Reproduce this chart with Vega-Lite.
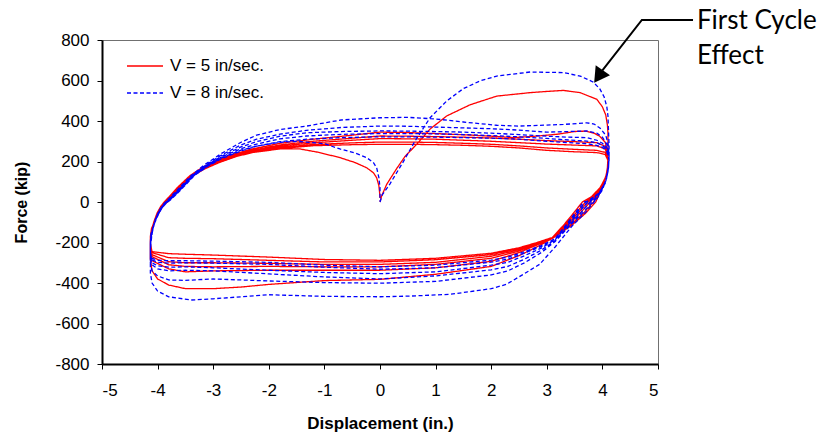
{
"$schema":"https://vega.github.io/schema/vega-lite/v6.json",
"width":556,"height":324,
"autosize":{"type":"none"},
"padding":{"left":102,"top":40,"right":171,"bottom":71},
"config":{"view":{"stroke":"#707070","strokeWidth":1},"font":"Liberation Sans",
"axis":{"grid":false,"domainColor":"#000","domainWidth":2,"tickColor":"#000","tickWidth":1,"tickSize":5,"labelFont":"Liberation Sans","labelFontSize":17,"labelColor":"#000","labelExpr":"'' + datum.value","titleFont":"Liberation Sans","titleFontWeight":"bold","titleColor":"#000"}},
"layer":[
{"mark":{"type":"rule","color":"#000","strokeWidth":1},"encoding":{"x":{"datum":0,"type":"quantitative","title":"Displacement (in.)"}}},
{"mark":{"type":"rule","color":"#000","strokeWidth":1},"encoding":{"y":{"datum":0,"type":"quantitative","title":"Force (kip)"}}},
{"data":{"values":[
{"v":5,"x":0,"y":0},{"v":5,"x":0.03,"y":30},{"v":5,"x":0.12,"y":87},{"v":5,"x":0.3,"y":165},{"v":5,"x":0.45,"y":225},{"v":5,"x":0.66,"y":285},{"v":5,"x":0.9,"y":360},{"v":5,"x":1.2,"y":425},{"v":5,"x":1.62,"y":480},{"v":5,"x":2.1,"y":523},{"v":5,"x":2.7,"y":540},{"v":5,"x":3.0,"y":546},{"v":5,"x":3.3,"y":551},{"v":5,"x":3.6,"y":540},{"v":5,"x":3.9,"y":507},{"v":5,"x":4.0,"y":470},{"v":5,"x":4.06,"y":430},{"v":5,"x":4.09,"y":380},{"v":5,"x":4.1,"y":342},
{"v":5,"x":4.1,"y":280},{"v":5,"x":4.1,"y":220},{"v":5,"x":4.09,"y":170},{"v":5,"x":4.06,"y":120},{"v":5,"x":4.0,"y":70},{"v":5,"x":3.93,"y":30},{"v":5,"x":3.88,"y":0},{"v":5,"x":3.7,"y":-55},{"v":5,"x":3.45,"y":-115},{"v":5,"x":3.1,"y":-180},
{"v":5,"x":2.8,"y":-225},{"v":5,"x":2.5,"y":-265},{"v":5,"x":2.0,"y":-318},{"v":5,"x":1.0,"y":-357},{"v":5,"x":0,"y":-382},{"v":5,"x":-1,"y":-388},{"v":5,"x":-2,"y":-407},{"v":5,"x":-2.5,"y":-420},{"v":5,"x":-3,"y":-428},{"v":5,"x":-3.5,"y":-428},{"v":5,"x":-3.8,"y":-410},{"v":5,"x":-4.0,"y":-380},{"v":5,"x":-4.1,"y":-340},{"v":5,"x":-4.13,"y":-280},
{"v":5,"x":-4.13,"y":-200},{"v":5,"x":-4.11,"y":-150},{"v":5,"x":-4.07,"y":-100},{"v":5,"x":-4.01,"y":-55},{"v":5,"x":-3.94,"y":-20},{"v":5,"x":-3.88,"y":0},{"v":5,"x":-3.78,"y":30},{"v":5,"x":-3.65,"y":70},{"v":5,"x":-3.42,"y":130},{"v":5,"x":-3.2,"y":170},{"v":5,"x":-2.95,"y":205},{"v":5,"x":-2.65,"y":235},{"v":5,"x":-2.3,"y":262},
{"v":5,"x":-1.8,"y":290},{"v":5,"x":-1.2,"y":310},{"v":5,"x":-0.5,"y":330},{"v":5,"x":0,"y":345},{"v":5,"x":0.5,"y":343},{"v":5,"x":1,"y":338},{"v":5,"x":1.5,"y":332},{"v":5,"x":2.0,"y":325},{"v":5,"x":2.4,"y":318},{"v":5,"x":2.8,"y":325},{"v":5,"x":3.2,"y":335},{"v":5,"x":3.5,"y":348},{"v":5,"x":3.7,"y":350},{"v":5,"x":3.85,"y":340},{"v":5,"x":3.95,"y":325},{"v":5,"x":4.05,"y":295},
{"v":5,"x":4.1,"y":240},{"v":5,"x":4.1,"y":190},{"v":5,"x":4.08,"y":140},{"v":5,"x":4.02,"y":85},{"v":5,"x":3.92,"y":35},{"v":5,"x":3.84,"y":0},{"v":5,"x":3.66,"y":-55},{"v":5,"x":3.42,"y":-115},{"v":5,"x":3.1,"y":-180},
{"v":5,"x":2.8,"y":-215},{"v":5,"x":2.5,"y":-250},{"v":5,"x":2.0,"y":-293},{"v":5,"x":1.0,"y":-325},{"v":5,"x":0,"y":-337},{"v":5,"x":-1,"y":-337},{"v":5,"x":-2,"y":-337},{"v":5,"x":-3,"y":-340},{"v":5,"x":-3.5,"y":-345},{"v":5,"x":-3.8,"y":-330},{"v":5,"x":-4.1,"y":-290},{"v":5,"x":-4.13,"y":-250},
{"v":5,"x":-4.13,"y":-190},{"v":5,"x":-4.11,"y":-145},{"v":5,"x":-4.06,"y":-95},{"v":5,"x":-4.0,"y":-52},{"v":5,"x":-3.93,"y":-18},{"v":5,"x":-3.86,"y":0},{"v":5,"x":-3.76,"y":30},{"v":5,"x":-3.63,"y":70},{"v":5,"x":-3.4,"y":130},{"v":5,"x":-3.18,"y":168},{"v":5,"x":-2.93,"y":202},{"v":5,"x":-2.63,"y":231},{"v":5,"x":-2.3,"y":256},
{"v":5,"x":-1.8,"y":282},{"v":5,"x":-1.2,"y":300},{"v":5,"x":-0.5,"y":315},{"v":5,"x":0,"y":326},{"v":5,"x":0.5,"y":325},{"v":5,"x":1,"y":323},{"v":5,"x":1.5,"y":320},{"v":5,"x":2.0,"y":316},{"v":5,"x":2.5,"y":310},{"v":5,"x":3.0,"y":303},{"v":5,"x":3.5,"y":298},{"v":5,"x":3.9,"y":293},{"v":5,"x":4.05,"y":275},
{"v":5,"x":4.1,"y":235},{"v":5,"x":4.1,"y":185},{"v":5,"x":4.07,"y":135},{"v":5,"x":4.0,"y":80},{"v":5,"x":3.88,"y":30},{"v":5,"x":3.78,"y":0},{"v":5,"x":3.6,"y":-55},{"v":5,"x":3.38,"y":-115},{"v":5,"x":3.1,"y":-178},
{"v":5,"x":2.8,"y":-210},{"v":5,"x":2.5,"y":-242},{"v":5,"x":2.0,"y":-278},{"v":5,"x":1.0,"y":-308},{"v":5,"x":0,"y":-320},{"v":5,"x":-1,"y":-320},{"v":5,"x":-2,"y":-318},{"v":5,"x":-3,"y":-320},{"v":5,"x":-3.5,"y":-318},{"v":5,"x":-3.8,"y":-310},{"v":5,"x":-4.1,"y":-270},{"v":5,"x":-4.13,"y":-235},
{"v":5,"x":-4.13,"y":-185},{"v":5,"x":-4.11,"y":-140},{"v":5,"x":-4.06,"y":-92},{"v":5,"x":-3.99,"y":-50},{"v":5,"x":-3.92,"y":-17},{"v":5,"x":-3.85,"y":0},{"v":5,"x":-3.75,"y":30},{"v":5,"x":-3.62,"y":70},{"v":5,"x":-3.39,"y":130},{"v":5,"x":-3.17,"y":167},{"v":5,"x":-2.92,"y":200},{"v":5,"x":-2.62,"y":229},{"v":5,"x":-2.3,"y":252},
{"v":5,"x":-1.8,"y":276},{"v":5,"x":-1.2,"y":292},{"v":5,"x":-0.5,"y":305},{"v":5,"x":0,"y":313},{"v":5,"x":0.5,"y":312},{"v":5,"x":1,"y":310},{"v":5,"x":1.5,"y":305},{"v":5,"x":2.0,"y":300},{"v":5,"x":2.5,"y":293},{"v":5,"x":3.0,"y":286},{"v":5,"x":3.5,"y":281},{"v":5,"x":3.9,"y":277},{"v":5,"x":4.05,"y":262},
{"v":5,"x":4.1,"y":225},{"v":5,"x":4.1,"y":180},{"v":5,"x":4.07,"y":130},{"v":5,"x":3.99,"y":78},{"v":5,"x":3.86,"y":28},{"v":5,"x":3.74,"y":0},{"v":5,"x":3.56,"y":-55},{"v":5,"x":3.35,"y":-115},{"v":5,"x":3.1,"y":-177},
{"v":5,"x":2.8,"y":-207},{"v":5,"x":2.5,"y":-236},{"v":5,"x":2.0,"y":-268},{"v":5,"x":1.0,"y":-298},{"v":5,"x":0,"y":-308},{"v":5,"x":-1,"y":-308},{"v":5,"x":-2,"y":-303},{"v":5,"x":-3,"y":-300},{"v":5,"x":-3.5,"y":-300},{"v":5,"x":-3.8,"y":-295},{"v":5,"x":-4.1,"y":-260},{"v":5,"x":-4.13,"y":-225},
{"v":5,"x":-4.13,"y":-180},{"v":5,"x":-4.11,"y":-137},{"v":5,"x":-4.05,"y":-90},{"v":5,"x":-3.98,"y":-48},{"v":5,"x":-3.91,"y":-16},{"v":5,"x":-3.84,"y":0},{"v":5,"x":-3.74,"y":30},{"v":5,"x":-3.61,"y":70},{"v":5,"x":-3.38,"y":130},{"v":5,"x":-3.16,"y":166},{"v":5,"x":-2.91,"y":198},{"v":5,"x":-2.61,"y":227},{"v":5,"x":-2.3,"y":249},
{"v":5,"x":-1.8,"y":270},{"v":5,"x":-1.2,"y":284},{"v":5,"x":-0.5,"y":292},{"v":5,"x":0,"y":296},{"v":5,"x":0.5,"y":296},{"v":5,"x":1,"y":294},{"v":5,"x":1.5,"y":290},{"v":5,"x":2.0,"y":285},{"v":5,"x":2.5,"y":277},{"v":5,"x":3.0,"y":267},{"v":5,"x":3.5,"y":260},{"v":5,"x":3.9,"y":255},{"v":5,"x":4.05,"y":245},
{"v":5,"x":4.1,"y":215},{"v":5,"x":4.1,"y":175},{"v":5,"x":4.06,"y":125},{"v":5,"x":3.97,"y":75},{"v":5,"x":3.82,"y":25},{"v":5,"x":3.7,"y":0},{"v":5,"x":3.52,"y":-55},{"v":5,"x":3.32,"y":-115},{"v":5,"x":3.1,"y":-176},
{"v":5,"x":2.8,"y":-204},{"v":5,"x":2.5,"y":-230},{"v":5,"x":2.0,"y":-260},{"v":5,"x":1.0,"y":-285},{"v":5,"x":0,"y":-296},{"v":5,"x":-1,"y":-296},{"v":5,"x":-2,"y":-288},{"v":5,"x":-3,"y":-280},{"v":5,"x":-3.5,"y":-278},{"v":5,"x":-3.8,"y":-275},{"v":5,"x":-4.1,"y":-250},{"v":5,"x":-4.13,"y":-215},
{"v":5,"x":-4.13,"y":-175},{"v":5,"x":-4.11,"y":-134},{"v":5,"x":-4.05,"y":-88},{"v":5,"x":-3.97,"y":-46},{"v":5,"x":-3.9,"y":-15},{"v":5,"x":-3.83,"y":0},{"v":5,"x":-3.73,"y":30},{"v":5,"x":-3.6,"y":70},{"v":5,"x":-3.37,"y":130},{"v":5,"x":-3.15,"y":165},{"v":5,"x":-2.9,"y":196},{"v":5,"x":-2.6,"y":225},{"v":5,"x":-2.3,"y":246},
{"v":5,"x":-1.8,"y":264},{"v":5,"x":-1.2,"y":278},{"v":5,"x":-0.5,"y":283},{"v":5,"x":0,"y":285},{"v":5,"x":0.5,"y":285},{"v":5,"x":1,"y":283},{"v":5,"x":1.5,"y":280},{"v":5,"x":2.0,"y":275},{"v":5,"x":2.5,"y":267},{"v":5,"x":3.0,"y":255},{"v":5,"x":3.5,"y":248},{"v":5,"x":3.9,"y":244},{"v":5,"x":4.05,"y":235},
{"v":5,"x":4.1,"y":205},{"v":5,"x":4.1,"y":170},{"v":5,"x":4.06,"y":120},{"v":5,"x":3.96,"y":72},{"v":5,"x":3.8,"y":25},{"v":5,"x":3.64,"y":0},{"v":5,"x":3.48,"y":-55},{"v":5,"x":3.3,"y":-115},{"v":5,"x":3.1,"y":-175},
{"v":5,"x":2.8,"y":-202},{"v":5,"x":2.5,"y":-226},{"v":5,"x":2.0,"y":-253},{"v":5,"x":1.0,"y":-278},{"v":5,"x":0,"y":-288},{"v":5,"x":-1,"y":-284},{"v":5,"x":-2,"y":-272},{"v":5,"x":-3,"y":-262},{"v":5,"x":-3.5,"y":-258},{"v":5,"x":-3.8,"y":-255},{"v":5,"x":-4.1,"y":-245},{"v":5,"x":-4.13,"y":-205},
{"v":5,"x":-4.13,"y":-170},{"v":5,"x":-4.11,"y":-131},{"v":5,"x":-4.04,"y":-86},{"v":5,"x":-3.96,"y":-44},{"v":5,"x":-3.89,"y":-14},{"v":5,"x":-3.82,"y":0},{"v":5,"x":-3.72,"y":30},{"v":5,"x":-3.59,"y":70},{"v":5,"x":-3.36,"y":130},{"v":5,"x":-3.14,"y":165},{"v":5,"x":-2.89,"y":195},{"v":5,"x":-2.59,"y":224},{"v":5,"x":-2.3,"y":244},
{"v":5,"x":-1.8,"y":262},{"v":5,"x":-1.44,"y":262},{"v":5,"x":-1.1,"y":245},{"v":5,"x":-0.72,"y":219},{"v":5,"x":-0.45,"y":195},{"v":5,"x":-0.24,"y":169},{"v":5,"x":-0.12,"y":145},{"v":5,"x":-0.06,"y":120},{"v":5,"x":-0.02,"y":80},{"v":5,"x":-0.01,"y":54},{"v":5,"x":0,"y":20},
{"v":8,"x":0,"y":0},{"v":8,"x":0.04,"y":35},{"v":8,"x":0.18,"y":90},{"v":8,"x":0.4,"y":190},{"v":8,"x":0.63,"y":301},{"v":8,"x":0.9,"y":416},{"v":8,"x":1.2,"y":499},{"v":8,"x":1.5,"y":560},{"v":8,"x":1.8,"y":598},{"v":8,"x":2.1,"y":622},{"v":8,"x":2.7,"y":642},{"v":8,"x":3.3,"y":639},{"v":8,"x":3.6,"y":622},{"v":8,"x":3.83,"y":593},{"v":8,"x":3.95,"y":560},{"v":8,"x":4.03,"y":520},{"v":8,"x":4.08,"y":470},{"v":8,"x":4.1,"y":425},{"v":8,"x":4.11,"y":350},
{"v":8,"x":4.12,"y":280},{"v":8,"x":4.12,"y":220},{"v":8,"x":4.11,"y":170},{"v":8,"x":4.08,"y":120},{"v":8,"x":4.0,"y":60},{"v":8,"x":3.9,"y":15},{"v":8,"x":3.85,"y":0},{"v":8,"x":3.7,"y":-50},{"v":8,"x":3.45,"y":-120},{"v":8,"x":3.15,"y":-222},
{"v":8,"x":2.87,"y":-308},{"v":8,"x":2.5,"y":-370},{"v":8,"x":2.27,"y":-407},{"v":8,"x":2.0,"y":-428},{"v":8,"x":1.26,"y":-456},{"v":8,"x":0.5,"y":-465},{"v":8,"x":0,"y":-468},{"v":8,"x":-1,"y":-466},{"v":8,"x":-2,"y":-458},{"v":8,"x":-2.5,"y":-468},{"v":8,"x":-3,"y":-478},{"v":8,"x":-3.4,"y":-484},{"v":8,"x":-3.8,"y":-468},{"v":8,"x":-4.0,"y":-440},{"v":8,"x":-4.1,"y":-400},{"v":8,"x":-4.13,"y":-350},
{"v":8,"x":-4.13,"y":-270},{"v":8,"x":-4.12,"y":-200},{"v":8,"x":-4.09,"y":-140},{"v":8,"x":-4.04,"y":-85},{"v":8,"x":-3.97,"y":-40},{"v":8,"x":-3.89,"y":-10},{"v":8,"x":-3.82,"y":10},{"v":8,"x":-3.72,"y":38},{"v":8,"x":-3.6,"y":72},{"v":8,"x":-3.4,"y":130},{"v":8,"x":-3.15,"y":185},{"v":8,"x":-2.85,"y":240},{"v":8,"x":-2.5,"y":295},{"v":8,"x":-2.22,"y":330},
{"v":8,"x":-1.8,"y":358},{"v":8,"x":-1.32,"y":375},{"v":8,"x":-0.7,"y":405},{"v":8,"x":0,"y":416},{"v":8,"x":0.5,"y":418},{"v":8,"x":1,"y":410},{"v":8,"x":1.5,"y":395},{"v":8,"x":2.1,"y":379},{"v":8,"x":2.5,"y":375},{"v":8,"x":3.0,"y":380},{"v":8,"x":3.3,"y":383},{"v":8,"x":3.72,"y":391},{"v":8,"x":3.85,"y":385},{"v":8,"x":3.96,"y":364},{"v":8,"x":4.06,"y":330},{"v":8,"x":4.1,"y":290},
{"v":8,"x":4.12,"y":230},{"v":8,"x":4.11,"y":170},{"v":8,"x":4.07,"y":110},{"v":8,"x":3.98,"y":55},{"v":8,"x":3.88,"y":12},{"v":8,"x":3.82,"y":0},{"v":8,"x":3.66,"y":-50},{"v":8,"x":3.42,"y":-115},{"v":8,"x":3.15,"y":-195},
{"v":8,"x":2.9,"y":-250},{"v":8,"x":2.6,"y":-300},{"v":8,"x":2.3,"y":-340},{"v":8,"x":2.0,"y":-360},{"v":8,"x":1.0,"y":-392},{"v":8,"x":0,"y":-401},{"v":8,"x":-1,"y":-398},{"v":8,"x":-2,"y":-390},{"v":8,"x":-3,"y":-380},{"v":8,"x":-3.5,"y":-387},{"v":8,"x":-3.8,"y":-385},{"v":8,"x":-4.0,"y":-365},{"v":8,"x":-4.1,"y":-340},{"v":8,"x":-4.13,"y":-300},
{"v":8,"x":-4.13,"y":-240},{"v":8,"x":-4.12,"y":-185},{"v":8,"x":-4.08,"y":-130},{"v":8,"x":-4.03,"y":-80},{"v":8,"x":-3.96,"y":-38},{"v":8,"x":-3.88,"y":-9},{"v":8,"x":-3.81,"y":10},{"v":8,"x":-3.7,"y":38},{"v":8,"x":-3.58,"y":72},{"v":8,"x":-3.38,"y":130},{"v":8,"x":-3.13,"y":183},{"v":8,"x":-2.85,"y":232},{"v":8,"x":-2.5,"y":282},{"v":8,"x":-2.22,"y":310},
{"v":8,"x":-1.8,"y":335},{"v":8,"x":-1.32,"y":354},{"v":8,"x":-0.7,"y":368},{"v":8,"x":0,"y":375},{"v":8,"x":0.5,"y":374},{"v":8,"x":1,"y":370},{"v":8,"x":1.5,"y":366},{"v":8,"x":2.0,"y":362},{"v":8,"x":2.5,"y":355},{"v":8,"x":3.0,"y":345},{"v":8,"x":3.4,"y":348},{"v":8,"x":3.72,"y":351},{"v":8,"x":3.9,"y":340},{"v":8,"x":4.0,"y":320},{"v":8,"x":4.08,"y":285},
{"v":8,"x":4.12,"y":225},{"v":8,"x":4.1,"y":165},{"v":8,"x":4.06,"y":105},{"v":8,"x":3.96,"y":50},{"v":8,"x":3.84,"y":10},{"v":8,"x":3.78,"y":0},{"v":8,"x":3.62,"y":-50},{"v":8,"x":3.4,"y":-115},{"v":8,"x":3.15,"y":-190},
{"v":8,"x":2.9,"y":-238},{"v":8,"x":2.6,"y":-282},{"v":8,"x":2.3,"y":-318},{"v":8,"x":2.0,"y":-335},{"v":8,"x":1.0,"y":-365},{"v":8,"x":0,"y":-380},{"v":8,"x":-1,"y":-370},{"v":8,"x":-2,"y":-355},{"v":8,"x":-3,"y":-340},{"v":8,"x":-3.5,"y":-337},{"v":8,"x":-3.8,"y":-340},{"v":8,"x":-4.0,"y":-330},{"v":8,"x":-4.1,"y":-310},{"v":8,"x":-4.13,"y":-275},
{"v":8,"x":-4.13,"y":-220},{"v":8,"x":-4.12,"y":-175},{"v":8,"x":-4.08,"y":-122},{"v":8,"x":-4.02,"y":-75},{"v":8,"x":-3.95,"y":-35},{"v":8,"x":-3.87,"y":-8},{"v":8,"x":-3.8,"y":10},{"v":8,"x":-3.69,"y":38},{"v":8,"x":-3.57,"y":72},{"v":8,"x":-3.37,"y":130},{"v":8,"x":-3.12,"y":181},{"v":8,"x":-2.85,"y":226},{"v":8,"x":-2.5,"y":272},{"v":8,"x":-2.22,"y":298},
{"v":8,"x":-1.8,"y":325},{"v":8,"x":-1.32,"y":342},{"v":8,"x":-0.7,"y":348},{"v":8,"x":0,"y":351},{"v":8,"x":0.5,"y":350},{"v":8,"x":1,"y":348},{"v":8,"x":1.5,"y":345},{"v":8,"x":2.0,"y":340},{"v":8,"x":2.5,"y":333},{"v":8,"x":3.0,"y":325},{"v":8,"x":3.4,"y":320},{"v":8,"x":3.72,"y":318},{"v":8,"x":3.9,"y":305},{"v":8,"x":4.0,"y":290},{"v":8,"x":4.08,"y":270},
{"v":8,"x":4.12,"y":215},{"v":8,"x":4.1,"y":160},{"v":8,"x":4.06,"y":100},{"v":8,"x":3.95,"y":48},{"v":8,"x":3.8,"y":8},{"v":8,"x":3.74,"y":0},{"v":8,"x":3.58,"y":-50},{"v":8,"x":3.38,"y":-115},{"v":8,"x":3.15,"y":-186},
{"v":8,"x":2.9,"y":-228},{"v":8,"x":2.6,"y":-265},{"v":8,"x":2.3,"y":-298},{"v":8,"x":2.0,"y":-312},{"v":8,"x":1.0,"y":-345},{"v":8,"x":0,"y":-354},{"v":8,"x":-1,"y":-348},{"v":8,"x":-2,"y":-337},{"v":8,"x":-3,"y":-325},{"v":8,"x":-3.5,"y":-320},{"v":8,"x":-3.8,"y":-322},{"v":8,"x":-4.0,"y":-315},{"v":8,"x":-4.1,"y":-300},{"v":8,"x":-4.13,"y":-265},
{"v":8,"x":-4.13,"y":-210},{"v":8,"x":-4.12,"y":-168},{"v":8,"x":-4.07,"y":-116},{"v":8,"x":-4.01,"y":-70},{"v":8,"x":-3.94,"y":-33},{"v":8,"x":-3.86,"y":-7},{"v":8,"x":-3.79,"y":10},{"v":8,"x":-3.68,"y":38},{"v":8,"x":-3.56,"y":72},{"v":8,"x":-3.36,"y":130},{"v":8,"x":-3.11,"y":180},{"v":8,"x":-2.85,"y":222},{"v":8,"x":-2.5,"y":263},{"v":8,"x":-2.22,"y":286},
{"v":8,"x":-1.8,"y":312},{"v":8,"x":-1.32,"y":326},{"v":8,"x":-0.7,"y":334},{"v":8,"x":0,"y":338},{"v":8,"x":0.5,"y":338},{"v":8,"x":1,"y":336},{"v":8,"x":1.5,"y":333},{"v":8,"x":2.0,"y":328},{"v":8,"x":2.5,"y":322},{"v":8,"x":3.0,"y":314},{"v":8,"x":3.4,"y":306},{"v":8,"x":3.72,"y":301},{"v":8,"x":3.9,"y":292},{"v":8,"x":4.0,"y":280},{"v":8,"x":4.08,"y":260},
{"v":8,"x":4.12,"y":210},{"v":8,"x":4.1,"y":155},{"v":8,"x":4.05,"y":95},{"v":8,"x":3.94,"y":45},{"v":8,"x":3.77,"y":6},{"v":8,"x":3.7,"y":0},{"v":8,"x":3.55,"y":-50},{"v":8,"x":3.36,"y":-115},{"v":8,"x":3.15,"y":-183},
{"v":8,"x":2.9,"y":-220},{"v":8,"x":2.6,"y":-252},{"v":8,"x":2.3,"y":-282},{"v":8,"x":2.0,"y":-297},{"v":8,"x":1.0,"y":-325},{"v":8,"x":0,"y":-332},{"v":8,"x":-1,"y":-322},{"v":8,"x":-2,"y":-308},{"v":8,"x":-3,"y":-302},{"v":8,"x":-3.5,"y":-300},{"v":8,"x":-3.8,"y":-302},{"v":8,"x":-4.0,"y":-298},{"v":8,"x":-4.1,"y":-285},{"v":8,"x":-4.13,"y":-255},
{"v":8,"x":-4.13,"y":-205},{"v":8,"x":-4.12,"y":-163},{"v":8,"x":-4.07,"y":-112},{"v":8,"x":-4.0,"y":-67},{"v":8,"x":-3.93,"y":-31},{"v":8,"x":-3.85,"y":-6},{"v":8,"x":-3.78,"y":10},{"v":8,"x":-3.67,"y":38},{"v":8,"x":-3.55,"y":72},{"v":8,"x":-3.35,"y":130},{"v":8,"x":-3.1,"y":179},{"v":8,"x":-2.85,"y":218},{"v":8,"x":-2.5,"y":256},{"v":8,"x":-2.22,"y":276},
{"v":8,"x":-1.8,"y":298},{"v":8,"x":-1.32,"y":310},{"v":8,"x":-0.7,"y":318},{"v":8,"x":0,"y":322},{"v":8,"x":0.5,"y":322},{"v":8,"x":1,"y":320},{"v":8,"x":1.5,"y":318},{"v":8,"x":2.0,"y":315},{"v":8,"x":2.5,"y":310},{"v":8,"x":3.0,"y":300},{"v":8,"x":3.4,"y":293},{"v":8,"x":3.72,"y":288},{"v":8,"x":3.9,"y":280},{"v":8,"x":4.0,"y":270},{"v":8,"x":4.08,"y":250},
{"v":8,"x":4.12,"y":205},{"v":8,"x":4.1,"y":150},{"v":8,"x":4.05,"y":92},{"v":8,"x":3.93,"y":42},{"v":8,"x":3.74,"y":5},{"v":8,"x":3.66,"y":0},{"v":8,"x":3.52,"y":-50},{"v":8,"x":3.34,"y":-115},{"v":8,"x":3.15,"y":-181},
{"v":8,"x":2.9,"y":-215},{"v":8,"x":2.6,"y":-245},{"v":8,"x":2.3,"y":-272},{"v":8,"x":2.0,"y":-287},{"v":8,"x":1.0,"y":-312},{"v":8,"x":0,"y":-320},{"v":8,"x":-1,"y":-312},{"v":8,"x":-2,"y":-298},{"v":8,"x":-3,"y":-292},{"v":8,"x":-3.5,"y":-290},{"v":8,"x":-3.8,"y":-290},{"v":8,"x":-4.0,"y":-288},{"v":8,"x":-4.1,"y":-278},{"v":8,"x":-4.13,"y":-250},
{"v":8,"x":-4.13,"y":-200},{"v":8,"x":-4.12,"y":-158},{"v":8,"x":-4.06,"y":-108},{"v":8,"x":-3.99,"y":-64},{"v":8,"x":-3.92,"y":-29},{"v":8,"x":-3.84,"y":-5},{"v":8,"x":-3.77,"y":10},{"v":8,"x":-3.66,"y":38},{"v":8,"x":-3.54,"y":72},{"v":8,"x":-3.34,"y":130},{"v":8,"x":-3.09,"y":178},{"v":8,"x":-2.85,"y":214},{"v":8,"x":-2.5,"y":252},{"v":8,"x":-2.22,"y":276},
{"v":8,"x":-1.8,"y":295},{"v":8,"x":-1.5,"y":300},{"v":8,"x":-1.0,"y":288},{"v":8,"x":-0.72,"y":262},{"v":8,"x":-0.45,"y":242},{"v":8,"x":-0.24,"y":219},{"v":8,"x":-0.12,"y":195},{"v":8,"x":-0.06,"y":169},{"v":8,"x":-0.02,"y":120},{"v":8,"x":0,"y":70},{"v":8,"x":0,"y":5}
]},
"mark":{"type":"line","strokeWidth":1.3},
"encoding":{
"x":{"field":"x","type":"quantitative","scale":{"domain":[-5,5],"nice":false,"zero":false},"axis":{"values":[-5,-4,-3,-2,-1,0,1,2,3,4,5],"labelPadding":13,"titlePadding":17,"titleFontSize":17},"title":"Displacement (in.)"},
"y":{"field":"y","type":"quantitative","scale":{"domain":[-800,800],"nice":false},"axis":{"values":[-800,-600,-400,-200,0,200,400,600,800],"labelPadding":8,"titlePadding":25,"titleFontSize":16},"title":"Force (kip)"},
"color":{"field":"v","type":"nominal","scale":{"domain":[5,8],"range":["#ff0000","#0000ff"]},"legend":{"orient":"none","legendX":24,"legendY":7,"title":null,"symbolType":"stroke","symbolSize":1296,"symbolStrokeWidth":1.3,"labelFontSize":17,"labelFont":"Liberation Sans","labelColor":"#000","labelOffset":6,"rowPadding":-8,"padding":0,"labelExpr":"'V = ' + datum.label + ' in/sec.'"}},
"strokeDash":{"field":"v","type":"nominal","scale":{"domain":[5,8],"range":[[1,0],[4,2.5]]}},
"order":{"value":null}
}},
{"data":{"values":[{"x":5.63,"y":899},{"x":4.71,"y":899},{"x":4.0,"y":650}]},
"mark":{"type":"line","color":"#000","strokeWidth":2},
"encoding":{"x":{"field":"x","type":"quantitative","title":"Displacement (in.)"},"y":{"field":"y","type":"quantitative","title":"Force (kip)"},"order":{"value":null}}},
{"data":{"values":[{"x":3.93,"y":620}]},
"mark":{"type":"point","shape":"triangle-up","filled":true,"color":"#000","opacity":1,"size":306,"angle":215},
"encoding":{"x":{"field":"x","type":"quantitative","title":"Displacement (in.)"},"y":{"field":"y","type":"quantitative","title":"Force (kip)"}}},
{"data":{"values":[{"t":"First Cycle","x":5.7,"y":854},{"t":"Effect","x":5.7,"y":681}]},
"mark":{"type":"text","align":"left","baseline":"alphabetic","font":"Lato","fontSize":26,"color":"#000"},
"encoding":{"x":{"field":"x","type":"quantitative","title":"Displacement (in.)"},"y":{"field":"y","type":"quantitative","title":"Force (kip)"},"text":{"field":"t","type":"nominal"}}}
]
}
